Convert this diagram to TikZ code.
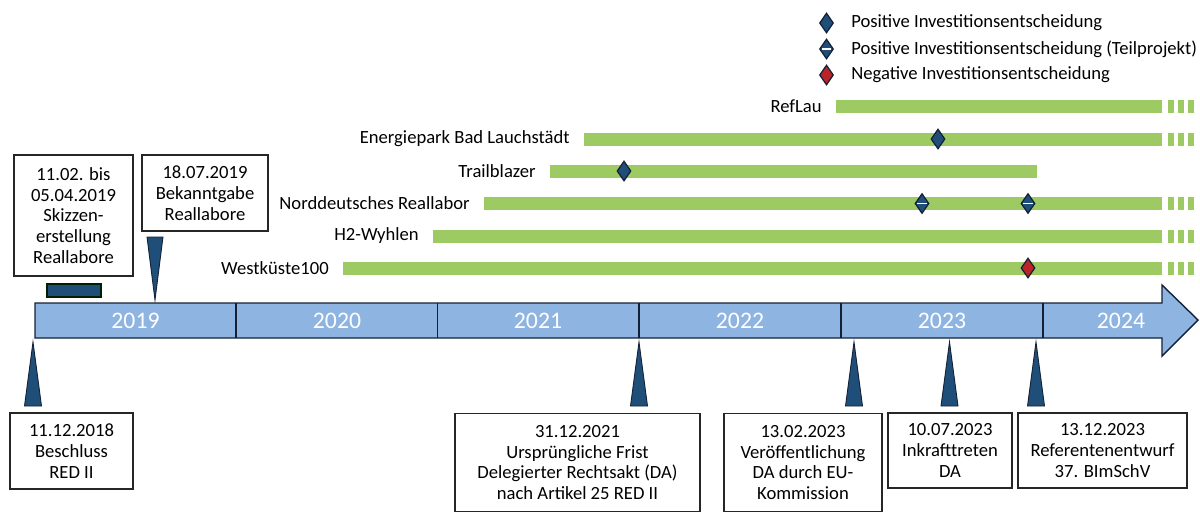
\documentclass[tikz,border=0pt]{standalone}
\usepackage{fontspec}
\setmainfont{Carlito}
\usetikzlibrary{shapes.geometric,calc}

\definecolor{axisblue}{RGB}{142,180,226}
\definecolor{pinblue}{RGB}{31,78,121}
\definecolor{edgenavy}{RGB}{20,33,52}
\definecolor{bargreen}{RGB}{158,202,100}
\definecolor{negred}{RGB}{186,36,40}

\tikzset{
  evbox/.style={draw=black!85,line width=0.8pt,fill=white,align=center,inner sep=0pt,
    font=\fontsize{10.6}{11.9}\selectfont},
  pin/.style={fill=pinblue,draw=edgenavy,line width=0.5pt},
  bar/.style={fill=bargreen},
  projlabel/.style={anchor=east,inner sep=0pt,font=\fontsize{10.6}{11.9}\selectfont},
  yearlabel/.style={text=white,font=\fontsize{13.5}{15}\selectfont},
  fid/.style={diamond,draw=edgenavy,line width=0.7pt,minimum width=0.28cm,minimum height=0.4cm,inner sep=0pt},
  posfid/.style={fid,fill=pinblue},
  negfid/.style={fid,fill=negred},
  legtext/.style={anchor=west,inner sep=0pt,font=\fontsize{10.6}{11.9}\selectfont}
}

\begin{document}
\begin{tikzpicture}[x=0.02cm,y=-0.02cm]
  \useasboundingbox (0,0) rectangle (1200,512);

  % Legend
  \node[posfid] (leg1) at (826.5,23) {};
  \node[posfid] (leg2) at (826.5,49) {};
  \draw[white,line width=1.1pt] ($(leg2.west)!0.2!(leg2.east)$) -- ($(leg2.west)!0.8!(leg2.east)$);
  \node[negfid] (leg3) at (826.5,75) {};
  \node[legtext] (legtxt1) at (851,23) {Positive Investitionsentscheidung};
  \node[legtext] (legtxt2) at (851,49) {Positive Investitionsentscheidung (Teilprojekt)};
  \node[legtext] (legtxt3) at (851,75) {Negative Investitionsentscheidung};

  % Project bars
  \foreach \y/\xs/\name in {106.5/836/RefLau,139/584/Energiepark Bad Lauchstädt,
      203.5/484/Norddeutsches Reallabor,236/433/H2-Wyhlen,268/343/Westküste100} {
    \fill[bar] (\xs,\y-6.5) rectangle (1162,\y+6.5);
    \foreach \d in {1168,1178,1188}
      \fill[bar] (\d,\y-6.5) rectangle (\d+6,\y+6.5);
    \node[projlabel] at (\xs-14,\y) {\name};
  }
  \fill[bar] (550,171-6.5) rectangle (1037,171+6.5);
  \node[projlabel] at (536,171) {Trailblazer};

  % Decisions
  \node[posfid] (energie) at (938,139) {};
  \node[posfid] (trail) at (624,171) {};
  \node[posfid] (nord1) at (922,203.5) {};
  \node[posfid] (nord2) at (1028,203.5) {};
  \foreach \n in {nord1,nord2}
    \draw[white,line width=1.1pt] ($(\n.west)!0.2!(\n.east)$) -- ($(\n.west)!0.8!(\n.east)$);
  \node[negfid] (west) at (1028,268) {};

  % Timeline arrow
  \draw[fill=axisblue,draw=edgenavy,line width=0.8pt]
    (35,303) -- (1162,303) -- (1162,285) -- (1198,320) -- (1162,356) -- (1162,338) -- (35,338) -- cycle;
  \foreach \x in {236,437.5,639,841,1043}
    \draw[edgenavy,line width=0.8pt] (\x,303) -- (\x,338);
  \foreach \x/\yr in {135.5/2019,337/2020,538/2021,740/2022,942/2023,1121/2024}
    \node[yearlabel] at (\x,321) {\yr};

  % Top events
  \node[evbox,minimum width=2.38cm,minimum height=2.42cm] (skizzen) at (73.5,215.5)
    {11.02. bis\\05.04.2019\\Skizzen-\\erstellung\\Reallabore};
  \node[evbox,minimum width=2.52cm,minimum height=1.52cm] (bekannt) at (205,193)
    {18.07.2019\\Bekanntgabe\\Reallabore};
  \fill[pinblue,draw=black!70!green!40!black,line width=0.8pt] (47,284) rectangle (101,297);
  \draw[pin] (147,237) -- (163,237) -- (155,300) -- cycle;

  % Bottom events
  \foreach \x in {33,639,854,949.5,1036}
    \draw[pin] (\x-8.5,406) -- (\x+8.5,406) -- (\x,342) -- cycle;
  \node[evbox,minimum width=2.46cm,minimum height=1.52cm] (beschluss) at (71.5,451)
    {11.12.2018\\Beschluss\\RED II};
  \node[evbox,minimum width=4.9cm,minimum height=1.96cm] (frist) at (577.5,462.5)
    {31.12.2021\\Ursprüngliche Frist\\Delegierter Rechtsakt (DA)\\nach Artikel 25 RED II};
  \node[evbox,minimum width=3.16cm,minimum height=1.96cm] (veroeff) at (803,462.5)
    {13.02.2023\\Veröffentlichung\\DA durch EU-\\Kommission};
  \node[evbox,minimum width=2.48cm,minimum height=1.5cm] (inkraft) at (950,450.5)
    {10.07.2023\\Inkrafttreten\\DA};
  \node[evbox,minimum width=3.38cm,minimum height=1.5cm] (referent) at (1102.5,450.5)
    {13.12.2023\\Referentenentwurf\\37. BImSchV};
\end{tikzpicture}
\end{document}
